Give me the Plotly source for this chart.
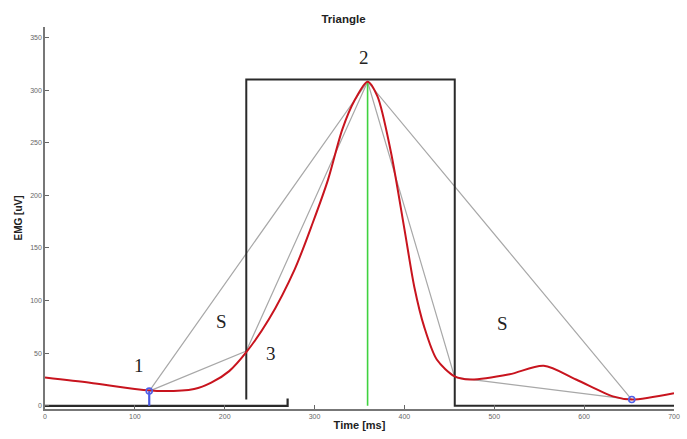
import plotly.graph_objects as go

# EMG envelope (red curve)
time_ms = [0, 50, 100, 130, 166, 185, 205, 224, 249, 278, 298, 315, 331, 345, 359,
           370, 385, 400, 411, 422, 436, 456, 473, 517, 555, 591, 632, 653, 700]
emg_uv = [27, 22, 16, 14, 16, 22, 33, 51, 82, 130, 174, 215, 263, 291, 308,
          294, 241, 168, 113, 75, 44, 28, 25, 30, 38, 25, 9, 6, 12]

# Key points: onset (1), inflection (3), peak (2), right-side point, end
onset = (116, 14)
infl = (224, 52)
peak = (359, 308)
right_knee = (456, 27)
offset = (653, 6)

# Rectangle (window)
rect_x0, rect_x1, rect_top = 224, 456, 310
bar_left_end = 270

labels = ["1", "S", "3", "2", "S"]
label_x = [105, 196, 251, 355, 509]
label_y = [38, 80, 50, 331, 78]

fig = go.Figure()

gray = "#a8a8a8"
# triangle
fig.add_trace(go.Scatter(x=[onset[0], peak[0], offset[0]], y=[onset[1], peak[1], offset[1]],
                         mode="lines", line=dict(color=gray, width=1.2), hoverinfo="skip"))
# polyline approximation
fig.add_trace(go.Scatter(x=[onset[0], infl[0], peak[0], right_knee[0], offset[0]],
                         y=[onset[1], infl[1], peak[1], right_knee[1], offset[1]],
                         mode="lines", line=dict(color=gray, width=1.2), hoverinfo="skip"))
# rectangle and baseline bars
dark = "#2a2a2a"
fig.add_trace(go.Scatter(x=[rect_x0, rect_x0, rect_x1, rect_x1, 700],
                         y=[6, rect_top, rect_top, 0, 0],
                         mode="lines", line=dict(color=dark, width=2), hoverinfo="skip"))
fig.add_trace(go.Scatter(x=[0, bar_left_end, bar_left_end], y=[0, 0, 7],
                         mode="lines", line=dict(color=dark, width=2.2), hoverinfo="skip"))
# green peak line
fig.add_trace(go.Scatter(x=[peak[0], peak[0]], y=[0, peak[1]], mode="lines",
                         line=dict(color="#3fd23f", width=1.6), hoverinfo="skip"))
# red curve
fig.add_trace(go.Scatter(x=time_ms, y=emg_uv, mode="lines",
                         line=dict(color="#c8141e", width=2, shape="spline", smoothing=0.8),
                         hoverinfo="skip"))
# blue onset line and markers
fig.add_trace(go.Scatter(x=[onset[0], onset[0]], y=[0, onset[1]], mode="lines",
                         line=dict(color="#4a5ae0", width=2.2), hoverinfo="skip"))
fig.add_trace(go.Scatter(x=[onset[0], offset[0]], y=[onset[1], offset[1]], mode="markers",
                         marker=dict(symbol="circle-open", size=6, color="#5060e8",
                                     line=dict(width=1.6)), hoverinfo="skip"))

for t, x, y in zip(labels, label_x, label_y):
    fig.add_annotation(x=x, y=y, text=t, showarrow=False,
                       font=dict(family="Liberation Serif", size=19, color="#222"))

fig.update_layout(
    width=687, height=439,
    margin=dict(l=45, r=7, t=27, b=30),
    paper_bgcolor="white", plot_bgcolor="white",
    showlegend=False,
    title=dict(text="<b>Triangle</b>", x=0.5, xanchor="center", y=0.957, yanchor="middle",
               font=dict(family="Liberation Sans", size=11.5, color="#222")),
    xaxis=dict(range=[0, 700], tickvals=[0, 100, 200, 300, 400, 500, 600, 700],
               ticks="inside", ticklen=4, tickcolor="#666", showgrid=False, zeroline=False,
               showline=True, linecolor="#777", linewidth=1.5,
               tickfont=dict(family="Liberation Sans", size=7, color="#666"),
               title=dict(text="<b>Time [ms]</b>", standoff=2,
                          font=dict(family="Liberation Sans", size=11, color="#222"))),
    yaxis=dict(range=[-3, 360], tickvals=[0, 50, 100, 150, 200, 250, 300, 350],
               ticks="inside", ticklen=4, tickcolor="#666", showgrid=False, zeroline=False,
               showline=True, linecolor="#777", linewidth=1.5,
               tickfont=dict(family="Liberation Sans", size=7, color="#666"),
               title=dict(text="<b>EMG [uV]</b>", standoff=6,
                          font=dict(family="Liberation Sans", size=10, color="#222"))),
)

fig.write_html("out.html")
